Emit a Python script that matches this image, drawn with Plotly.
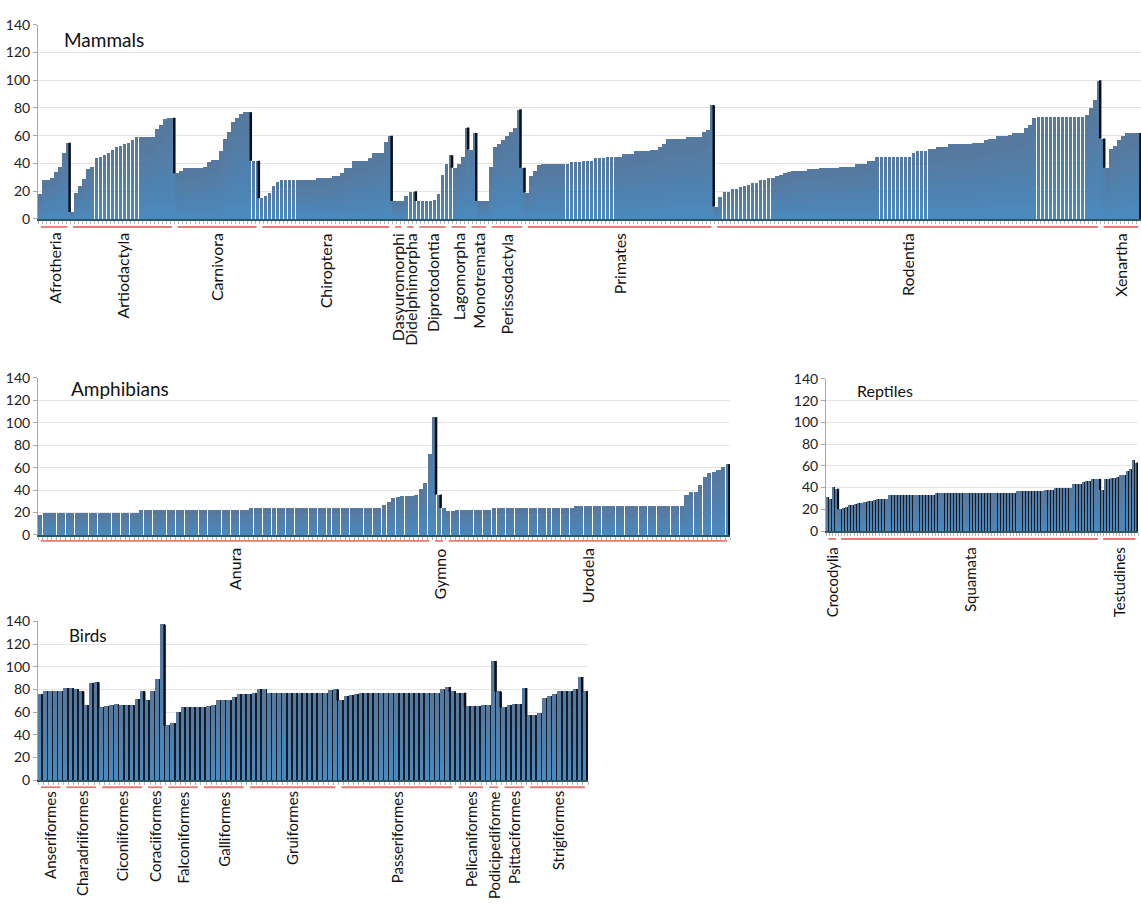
import plotly.graph_objects as go

# ---------------- Mammals ----------------
afrotheria = [18, 28, 28, 30, 34, 38, 48, 55]
artiodactyla = [5, 19, 24, 29, 36, 38, 44, 45, 46, 48, 50, 52, 53, 54, 55, 57, 59, 59, 59, 59,
                59, 65, 68, 72, 73, 73]
carnivora = [33, 35, 37, 37, 37, 37, 37, 38, 41, 43, 43, 49, 58, 63, 70, 73, 76, 77, 77, 42, 42]
chiroptera = [15, 17, 19, 24, 27, 28, 28, 28, 28, 28, 28, 28, 28, 28, 30, 30, 30, 30, 31, 31,
              33, 37, 37, 42, 42, 42, 42, 44, 48, 48, 48, 56, 60]
dasyuromorphi = [13, 13, 13]
didelphimorpha = [17, 20, 20]
diprotodontia = [13, 13, 13, 13, 14, 18, 32, 40]
lagomorpha = [46, 37, 40, 45, 66]
monotremata = [50, 62, 13, 13, 13]
perissodactyla = [38, 52, 54, 57, 60, 63, 66, 79, 37]
primates = [19, 31, 35, 39, 40, 40, 40, 40, 40, 40, 40, 41, 41, 41, 42, 42, 42, 44, 44, 44,
            45, 45, 45, 45, 47, 47, 47, 49, 49, 49, 49, 50, 50, 52, 54, 58, 58, 58, 58, 58,
            59, 59, 59, 59, 63, 64, 82]
rodentia = [9, 16, 20, 20, 22, 22, 23, 24, 25, 26, 26, 28, 28, 30, 30, 31, 32, 33, 34, 35,
            35, 35, 35, 36, 36, 36, 37, 37, 37, 37, 37, 38, 38, 38, 38, 40, 40, 40, 42, 42,
            45, 45, 45, 45, 45, 45, 45, 45, 45, 48, 49, 49, 49, 51, 51, 52, 52, 52, 54, 54,
            54, 54, 54, 54, 55, 55, 55, 57, 58, 58, 60, 60, 60, 61, 62, 62, 62, 66, 68, 73,
            74, 74, 74, 74, 74, 74, 74, 74, 74, 74, 74, 74, 75, 80, 86, 100]
xenartha = [58, 37, 51, 53, 57, 60, 62, 62, 62, 62]

mammal_groups = [
    ("Afrotheria", afrotheria), ("Artiodactyla", artiodactyla), ("Carnivora", carnivora),
    ("Chiroptera", chiroptera), ("Dasyuromorphi", dasyuromorphi),
    ("Didelphimorpha", didelphimorpha), ("Diprotodontia", diprotodontia),
    ("Lagomorpha", lagomorpha), ("Monotremata", monotremata),
    ("Perissodactyla", perissodactyla), ("Primates", primates), ("Rodentia", rodentia),
    ("Xenartha", xenartha),
]

# ---------------- Amphibians ----------------
anura = [18, 20, 20, 20, 20, 20, 20, 20, 20, 20, 20, 20, 20, 20, 20, 20, 20, 20, 20, 20,
         20, 20, 22, 22, 22, 22, 22, 22, 22, 22, 22, 22, 22, 22, 22, 22, 22, 22, 22, 22,
         22, 22, 22, 22, 22, 22, 24, 24, 24, 24, 24, 24, 24, 24, 24, 24, 24, 24, 24, 24,
         24, 24, 24, 24, 24, 24, 24, 24, 24, 24, 24, 24, 24, 24, 24, 27, 29, 33, 34, 35,
         35, 35, 36, 41, 46, 72]
gymno = [105, 36, 24]
urodela = [21, 21, 22, 22, 22, 22, 22, 22, 22, 22, 24, 24, 24, 24, 24, 24, 24, 24, 24, 24,
           24, 24, 24, 24, 24, 24, 24, 24, 26, 26, 26, 26, 26, 26, 26, 26, 26, 26, 26, 26,
           26, 26, 26, 26, 26, 26, 26, 26, 26, 26, 26, 26, 36, 38, 38, 45, 52, 55, 56, 58,
           61, 63]

amphibian_groups = [("Anura", anura), ("Gymno", gymno), ("Urodela", urodela)]

# ---------------- Reptiles ----------------
crocodylia = [31, 30, 41, 39]
squamata = [20, 21, 22, 24, 24, 25, 26, 26, 27, 28, 28, 29, 30, 30, 30, 30, 33, 33, 33, 33,
            33, 33, 33, 33, 33, 33, 33, 33, 33, 33, 33, 35, 35, 35, 35, 35, 35, 35, 35, 35,
            35, 35, 35, 35, 35, 35, 35, 35, 35, 35, 35, 35, 35, 35, 35, 35, 35, 37, 37, 37,
            37, 37, 37, 37, 37, 37, 38, 38, 38, 40, 40, 40, 40, 40, 40, 43, 43, 43, 45, 46,
            46, 48, 48, 48]
testudines = [38, 48, 48, 49, 49, 50, 52, 52, 55, 57, 65, 63]

reptile_groups = [("Crocodylia", crocodylia), ("Squamata", squamata), ("Testudines", testudines)]

# ---------------- Birds ----------------
anseriformes = [76, 78, 78, 78, 78]
charadriiformes = [81, 81, 80, 78, 66, 85, 86]
ciconiiformes = [64, 65, 66, 67, 66, 66, 66, 71, 78]
coraciiformes = [70, 78, 89, 137]
falconiformes = [48, 50, 60, 64, 64, 64, 64]
galliformes = [64, 65, 66, 70, 70, 70, 73, 76, 76]
gruiformes = [76, 77, 80, 80, 77, 77, 77, 77, 77, 77, 77, 77, 77, 77, 77, 77, 79, 80]
passeriformes = [70, 74, 75, 76, 77, 77, 77, 77, 77, 77, 77, 77, 77, 77, 77, 77, 77, 77, 77,
                 77, 80, 82, 78]
pelicaniformes = [77, 77, 65, 65, 65, 66]
podicipediforme = [66, 105, 78]
psittaciformes = [64, 66, 67, 67, 81]
strigiformes = [57, 57, 59, 72, 74, 76, 78, 78, 78, 80, 91, 78]

bird_groups = [
    ("Anseriformes", anseriformes), ("Charadriiformes", charadriiformes),
    ("Ciconiiformes", ciconiiformes), ("Coraciiformes", coraciiformes),
    ("Falconiformes", falconiformes), ("Galliformes", galliformes),
    ("Gruiformes", gruiformes), ("Passeriformes", passeriformes),
    ("Pelicaniformes", pelicaniformes), ("Podicipediforme", podicipediforme),
    ("Psittaciformes", psittaciformes), ("Strigiformes", strigiformes),
]

Y_TICKS = [0, 20, 40, 60, 80, 100, 120, 140]

W, H = 1141, 906
FONT = "Lato, 'Open Sans', sans-serif"
BAR_BLUE = "#56799f"
EDGE_DARK = "#151c27"
RED_LINE = "#e77a72"
# fractions of each bar's height that receive a faint brighter-blue wash (smooth base glow)
WASH_STEPS = [0.8, 0.66, 0.54, 0.43, 0.33, 0.24, 0.16, 0.09, 0.04]

fig = go.Figure()


def px_dom_x(a, b):
    return [a / W, b / W]


def px_dom_y(bottom, top):
    return [(H - bottom) / H, (H - top) / H]


def add_panel(idx, groups, xdom, ydom, title, title_xy, title_size, edged, blue_w,
              red_shift, label_shift, red_gap, drop_w, label_size):
    xa = "x" if idx == 1 else f"x{idx}"
    ya = "y" if idx == 1 else f"y{idx}"
    values = [v for _, vals in groups for v in vals]
    n = len(values)
    xs = list(range(n))

    # dark right-hand edge behind each bar
    if edged:
        fig.add_trace(go.Bar(x=xs, y=values, width=1.0, offset=-0.5,
                             marker=dict(color=EDGE_DARK, line=dict(width=0)),
                             xaxis=xa, yaxis=ya, hoverinfo="skip"))
        offs = -0.5
    else:
        offs = -blue_w / 2
    fig.add_trace(go.Bar(x=xs, y=values, width=blue_w, offset=offs,
                         marker=dict(color=BAR_BLUE, line=dict(width=0)),
                         xaxis=xa, yaxis=ya))
    # brighter blue toward the base of each bar
    for frac in WASH_STEPS:
        fig.add_trace(go.Bar(x=xs, y=[v * frac for v in values], width=blue_w, offset=offs,
                             marker=dict(color="rgba(72,158,232,0.075)", line=dict(width=0)),
                             xaxis=xa, yaxis=ya, hoverinfo="skip"))

    # black drop edges where the next bar is clearly lower
    sx, sy = [], []
    for i, v in enumerate(values):
        nxt = values[i + 1] if i + 1 < n else 0
        if v - nxt >= 4:
            sx += [i + 0.36, i + 0.36, None]
            sy += [nxt, v, None]
    fig.add_trace(go.Scatter(x=sx, y=sy, mode="lines",
                             line=dict(color="#0d0f14", width=drop_w),
                             xaxis=xa, yaxis=ya, hoverinfo="skip"))

    fig.layout[("xaxis" if idx == 1 else f"xaxis{idx}")] = dict(
        domain=xdom, anchor=ya, range=[-0.5, n - 0.5], showgrid=False, zeroline=False,
        showline=True, linecolor="#2c5866", linewidth=2, ticks="outside", ticklen=3,
        tickcolor="#b4b4b4", tickmode="array", tickvals=[k - 0.5 for k in range(n + 1)],
        showticklabels=False, fixedrange=True)
    fig.layout[("yaxis" if idx == 1 else f"yaxis{idx}")] = dict(
        domain=ydom, anchor=xa, range=[0, 140], tickmode="array", tickvals=Y_TICKS,
        showgrid=True, gridcolor="#e4e4e4", gridwidth=1, zeroline=False, showline=True,
        linecolor="#a9a9a9", ticks="outside", ticklen=4, tickcolor="#a9a9a9",
        tickfont=dict(family=FONT, size=14, color="#222"), fixedrange=True)

    # group underlines and rotated group names
    start = 0
    for name, vals in groups:
        end = start + len(vals)
        fig.add_shape(type="line", xref=xa, yref=f"{ya} domain", ysizemode="pixel",
                      yanchor=0, x0=start - 0.5 + red_gap, x1=end - 0.5 - red_gap,
                      y0=-red_shift, y1=-red_shift, line=dict(color=RED_LINE, width=1.8))
        fig.add_annotation(x=(start + end - 1) / 2, y=0, xref=xa, yref=f"{ya} domain",
                           yshift=-label_shift, text=name, textangle=-90, showarrow=False,
                           xanchor="center", yanchor="top",
                           font=dict(family=FONT, size=label_size, color="#111"))
        start = end

    fig.add_annotation(x=title_xy[0] / W, y=(H - title_xy[1]) / H, xref="paper", yref="paper",
                       text=title, showarrow=False, xanchor="left", yanchor="middle",
                       font=dict(family=FONT, size=title_size, color="#111"))


add_panel(1, mammal_groups, px_dom_x(38, 1141), px_dom_y(214, 16), "Mammals", (62, 31), 19,
          edged=False, blue_w=0.92, red_shift=8, label_shift=12, red_gap=0.7, drop_w=2.5,
          label_size=16)
add_panel(2, amphibian_groups, px_dom_x(38, 730), px_dom_y(536, 376), "Amphibians", (69, 387), 19,
          edged=False, blue_w=0.9, red_shift=6, label_shift=11, red_gap=0.6, drop_w=2.5,
          label_size=16)
add_panel(3, reptile_groups, px_dom_x(826, 1138), px_dom_y(532, 377), "Reptiles", (855, 389), 16,
          edged=True, blue_w=0.72, red_shift=8, label_shift=14, red_gap=0.8, drop_w=2.2,
          label_size=15)
add_panel(4, bird_groups, px_dom_x(38, 588), px_dom_y(786, 624), "Birds", (67, 638), 17,
          edged=True, blue_w=0.68, red_shift=7, label_shift=9, red_gap=0.6, drop_w=2.5,
          label_size=15)

fig.update_layout(width=W, height=H, margin=dict(l=0, r=0, t=0, b=0),
                  paper_bgcolor="white", plot_bgcolor="white", showlegend=False,
                  barmode="overlay", bargap=0, font=dict(family=FONT))

fig.write_html("out.html")
